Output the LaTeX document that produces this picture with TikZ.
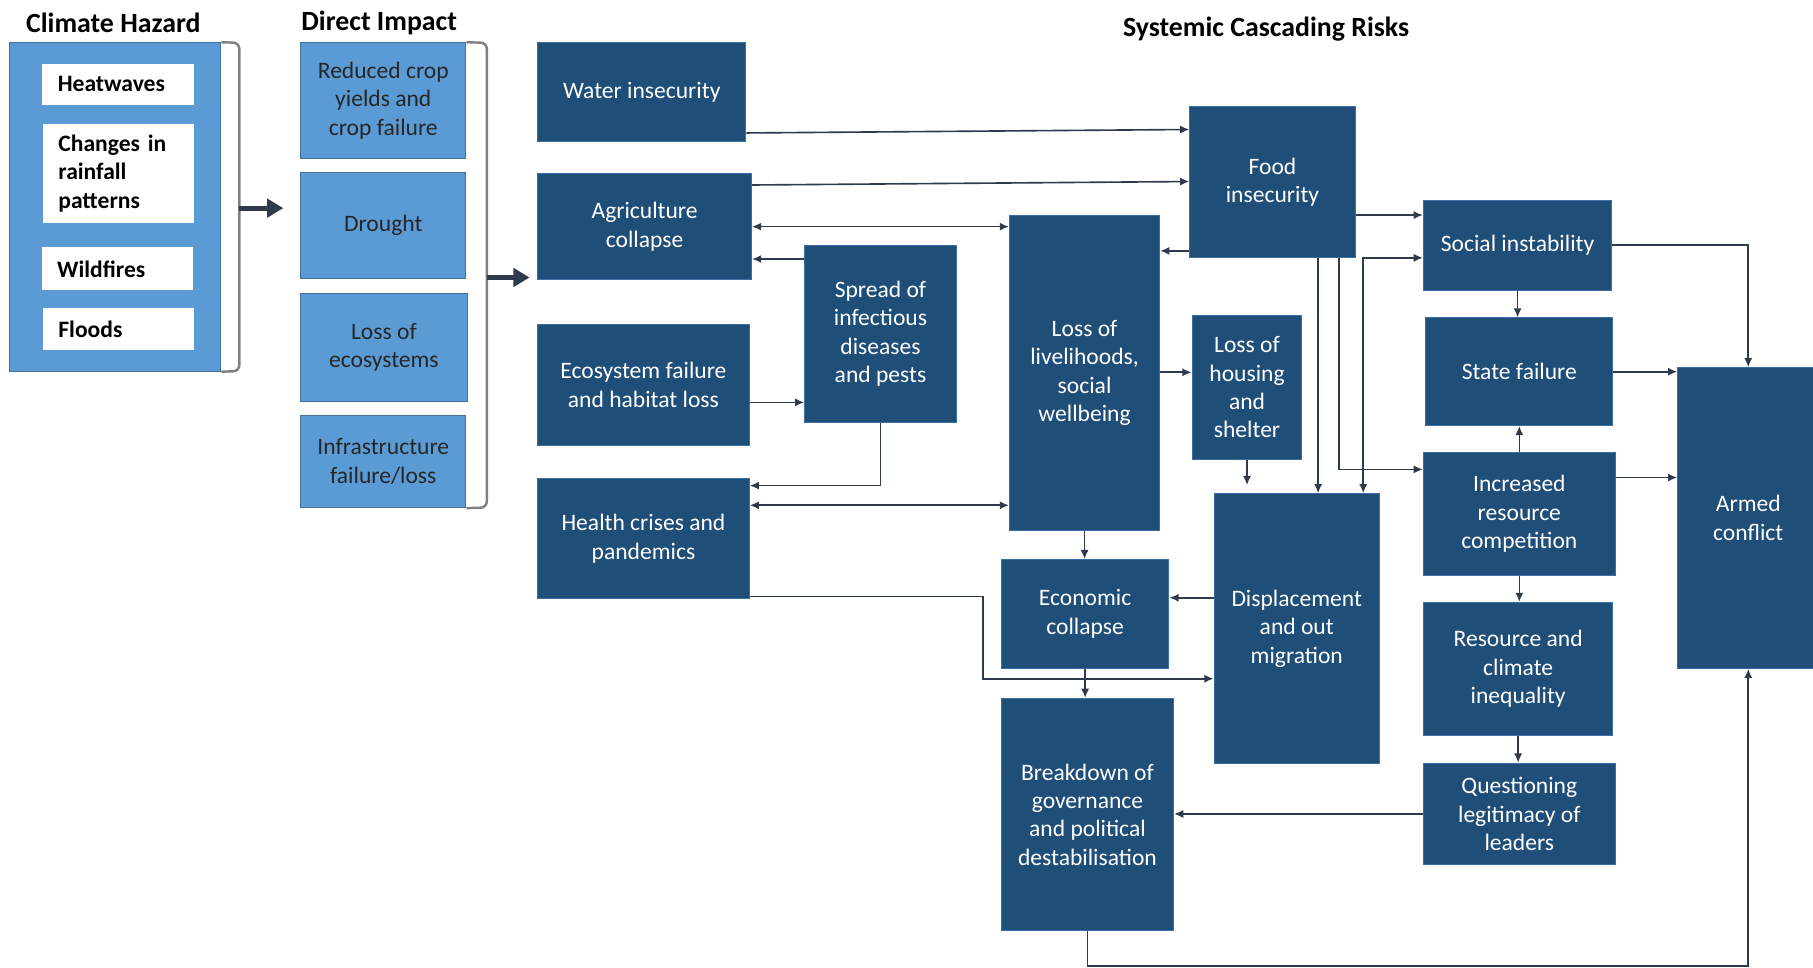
\documentclass[tikz,border=0pt]{standalone}
\usepackage{fontspec}
\setmainfont{Carlito}
\usetikzlibrary{arrows.meta}

\definecolor{riskblue}{HTML}{1F4E79}
\definecolor{riskedge}{HTML}{3A6FA3}
\definecolor{impactblue}{HTML}{5B9BD5}
\definecolor{impactedge}{HTML}{41719C}
\definecolor{linkgray}{HTML}{2F3B4C}
\definecolor{bracegray}{HTML}{7F7F7F}

\tikzset{
  % box spanning the corners (x1,y1) and (x2,y2)
  spanning/.style args={#1/#2/#3/#4}{at={({(#1+#3)/2},{(#2+#4)/2})},
    minimum width={(#3-#1)*0.02cm}, minimum height={(#4-#2)*0.02cm}},
  boxfont/.style={font=\fontsize{11.6}{14}\selectfont},
  risk/.style={boxfont, draw=riskedge, fill=riskblue, text=white, align=center, inner sep=0pt, line width=0.5pt},
  impact/.style={boxfont, draw=impactedge, fill=impactblue, text=black!85, align=center, inner sep=0pt, line width=0.5pt},
  hazitem/.style={font=\bfseries\fontsize{11.6}{14}\selectfont, fill=white, text=black, text width=2.08cm, align=left, inner sep=0pt},
  heading/.style={font=\bfseries\fontsize{13.7}{16}\selectfont},
  link/.style={draw=linkgray, line width=0.8pt},
  bracket/.style={draw=bracegray, line width=1.2pt, rounded corners=3pt},
  bigarrow/.style={draw=linkgray, line width=2.5pt, -{Triangle[length=8pt,width=9pt]}},
}

\begin{document}
\begin{tikzpicture}[x=0.02cm, y=-0.02cm, >={Latex[length=4.5pt,width=4pt]}]
    \useasboundingbox (0,0) rectangle (1568,837);

    % Headings
    \node[heading] (hazardhead) at (98,20) {Climate Hazard};
    \node[heading] (impacthead) at (328,20) {Direct Impact};
    \node[heading] (riskhead) at (1095,25) {Systemic Cascading Risks};

    % 1. Climate hazards
    \node[impact, spanning=8/37/191/321] (hazards) {};
    \node[hazitem, spanning=36/55/168/91] (heat) {Heatwaves};
    \node[hazitem, spanning=37/107/168/193] (rain) {Changes in\\rainfall\\patterns};
    \node[hazitem, spanning=36/214/167/251] (fire) {Wildfires};
    \node[hazitem, spanning=37/266/168/303] (flood) {Floods};

    \draw[bracket] (hazards.north east) -- (207,37) -- (207,321) -- (hazards.south east);
    \coordinate (hazardbrace) at (207,180);
    \coordinate (impactin) at (245,180);
    \draw[bigarrow] (hazardbrace) -- (impactin);

    % 2. Direct impacts
    \node[impact, spanning=260/37/403/137] (crop) {Reduced crop\\yields and\\crop failure};
    \node[impact, spanning=260/149/403/241] (drought) {Drought};
    \node[impact, spanning=260/254/404/347] (ecoloss) {Loss of\\ecosystems};
    \node[impact, spanning=260/359/403/439] (infra) {Infrastructure\\failure/loss};

    \draw[bracket] (crop.north east) -- (421,37) -- (421,439) -- (infra.south east);
    \coordinate (impactbrace) at (421,240);
    \coordinate (riskin) at (458,240);
    \draw[bigarrow] (impactbrace) -- (riskin);

    % 3. Systemic cascading risks
    \node[risk, spanning=465/37/645/122] (water) {Water insecurity};
    \node[risk, spanning=465/150/650/242] (agri) {Agriculture\\collapse};
    \node[risk, spanning=465/281/648/385] (ecofail) {Ecosystem failure\\and habitat loss};
    \node[risk, spanning=465/414/648/518] (health) {Health crises and\\pandemics};
    \node[risk, spanning=696/212/827/365] (spread) {Spread of\\infectious\\diseases\\and pests};
    \node[risk, spanning=873/186/1003/459] (livelihood) {Loss of\\livelihoods,\\social\\wellbeing};
    \node[risk, spanning=1029/92/1172/223] (food) {Food\\insecurity};
    \node[risk, spanning=1031/273/1126/397] (housing) {Loss of\\housing\\and\\shelter};
    \node[risk, spanning=866/484/1011/578] (economy) {Economic\\collapse};
    \node[risk, spanning=1050/427/1193/660] (displace) {Displacement\\and out\\migration};
    \node[risk, spanning=866/604/1015/805] (governance) {Breakdown of\\governance\\and political\\destabilisation};
    \node[risk, spanning=1231/173/1394/251] (social) {Social instability};
    \node[risk, spanning=1233/275/1395/368] (state) {State failure};
    \node[risk, spanning=1231/391/1397/498] (compete) {Increased\\resource\\competition};
    \node[risk, spanning=1231/521/1395/636] (inequal) {Resource and\\climate\\inequality};
    \node[risk, spanning=1231/660/1397/748] (legit) {Questioning\\legitimacy of\\leaders};
    \node[risk, spanning=1451/318/1573/578] (armed) {Armed\\conflict};

    % 4. Links between risks
    \draw[link, ->] (water.east |- 0,115) -- (food.west |- 0,112);
    \draw[link, ->] (agri.east |- 0,160) -- (food.west |- 0,157);
    \draw[link, <->] (agri.east |- 0,196) -- (livelihood.west |- 0,196);
    \draw[link, ->] (spread.west |- 0,224) -- (agri.east |- 0,224);
    \draw[link, ->] (ecofail.east |- 0,348) -- (spread.west |- 0,348);
    \draw[link, ->] (spread.south) |- (health.east |- 0,420);
    \draw[link, <->] (health.east |- 0,437) -- (livelihood.west |- 0,437);
    \draw[link, ->] (health.east |- 0,516) -| (850,587) -- (displace.west |- 0,587);

    \draw[link, ->] (food.west |- 0,217) -- (livelihood.east |- 0,217);
    \draw[link, ->] (food.east |- 0,186) -- (social.west |- 0,186);
    \draw[link, ->] (food.south -| 1140,0) -- (displace.north -| 1140,0);
    \draw[link, ->] (food.south -| 1158,0) |- (compete.west |- 0,406);
    \draw[link, <->] (social.west |- 0,223) -| (displace.north -| 1179,0);

    \draw[link, ->] (livelihood.east |- 0,322) -- (housing.west |- 0,322);
    \draw[link, ->, shorten >=1.4mm] (housing.south) -- (displace.north -| housing.south);
    \draw[link, ->] (livelihood.south) -- (economy.north -| livelihood.south);
    \draw[link, ->] (displace.west |- 0,517) -- (economy.east |- 0,517);
    \draw[link, ->] (economy.south) -- (governance.north -| economy.south);
    \draw[link, ->] (legit.west) -- (governance.east |- legit.west);
    \draw[link, ->] (governance.south) -- ++(0,30) -| (armed.south);

    \draw[link, ->] (social.east) -| (armed.north);
    \draw[link, ->] (state.east) -- (armed.west |- state.east);
    \draw[link, ->] (compete.east |- 0,413) -- (armed.west |- 0,413);
    \draw[link, ->] (social.south) -- (state.north -| social.south);
    \draw[link, ->] (compete.north) -- (state.south -| compete.north);
    \draw[link, ->] (compete.south) -- (inequal.north -| compete.south);
    \draw[link, ->] (inequal.south) -- (legit.north -| inequal.south);

\end{tikzpicture}
\end{document}
